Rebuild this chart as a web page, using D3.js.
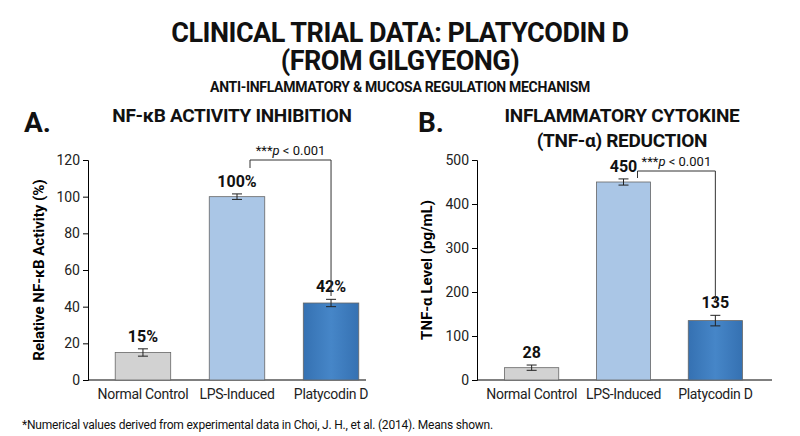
<!DOCTYPE html><html><head><meta charset="utf-8">
<script src="https://cdn.jsdelivr.net/npm/d3@7"></script>
<style>body{margin:0;background:#fff}text{font-family:"Roboto",sans-serif}</style></head><body>
<svg id="c" width="800" height="436"></svg>
<script>
const categories=["Normal Control","LPS-Induced","Platycodin D"];
const nfkbValues=[15,100,42];
const nfkbErrors=[2,1.5,2];
const nfkbLabels=["15%","100%","42%"];
const tnfValues=[28,450,135];
const tnfErrors=[6,7,12];
const tnfLabels=["28","450","135"];
const nfkbTicks=[0,20,40,60,80,100,120];
const tnfTicks=[0,100,200,300,400,500];
const colors=["#d2d2d2","#aac6e6","#3a78bb"];
const svg=d3.select("#c");
const defs=svg.append("defs");
const g=defs.append("linearGradient").attr("id","gb").attr("x1",0).attr("x2",1);
g.append("stop").attr("offset",0).attr("stop-color","#3571b2");g.append("stop").attr("offset",0.5).attr("stop-color","#4686c8");g.append("stop").attr("offset",1).attr("stop-color","#3571b2");
function T(x,y,s,t,o={}){const e=svg.append("text").attr("x",x).attr("y",y).attr("font-size",s).attr("font-weight",o.w||"bold").attr("text-anchor",o.a||"middle").attr("fill","#111").text(t);if(o.ls)e.attr("letter-spacing",o.ls);return e;}
T(400,42,27,"CLINICAL TRIAL DATA: PLATYCODIN D",{ls:-0.5});
T(400,70,27,"(FROM GILGYEONG)",{ls:-0.5});
T(400,92,14,"ANTI-INFLAMMATORY & MUCOSA REGULATION MECHANISM",{ls:-0.3});
T(24,132,28,"A.",{a:"start"});T(418,132,28,"B.",{a:"start"});
T(232,122,19,"NF-κB ACTIVITY INHIBITION",{ls:-0.3});
T(622,122,19,"INFLAMMATORY CYTOKINE",{ls:-0.3});T(622,147,19,"(TNF-α) REDUCTION",{ls:-0.3});
T(22,429,12,"*Numerical values derived from experimental data in Choi, J. H., et al. (2014). Means shown.",{a:"start",w:"normal",ls:-0.2});
function panel(x0,x1,bs,be,vals,errs,labs,ticks,max,ylab,lx,br){
 const x=d3.scaleBand().domain(categories).range([bs,be]).paddingInner(0.41).paddingOuter(0.3);
 const y=d3.scaleLinear().domain([0,max]).range([380,160]);
 const ga=svg.append("g").attr("transform",`translate(${x0},0)`).call(d3.axisLeft(y).tickValues(ticks).tickSize(5));
 ga.selectAll("text").attr("font-size",14).attr("fill","#222");
 const gb=svg.append("g").attr("transform","translate(0,380)").call(d3.axisBottom(x).tickSize(0).tickPadding(9));
 gb.selectAll("text").attr("font-size",14).attr("fill","#222").attr("letter-spacing",-0.3);
 gb.select(".domain").attr("d",`M${x0},0H${x1}`);
 categories.forEach((c,i)=>{
  svg.append("rect").attr("x",x(c)).attr("y",y(vals[i])).attr("width",x.bandwidth()).attr("height",380-y(vals[i])).attr("fill",i==2?"url(#gb)":colors[i]).attr("stroke","#666").attr("stroke-width",0.8);
  const cx=x(c)+x.bandwidth()/2;
  const e=svg.append("g").attr("stroke","#222").attr("stroke-width",1);
  e.append("line").attr("x1",cx).attr("x2",cx).attr("y1",y(vals[i]-errs[i])).attr("y2",y(vals[i]+errs[i]));
  [vals[i]-errs[i],vals[i]+errs[i]].forEach(v=>e.append("line").attr("x1",cx-5).attr("x2",cx+5).attr("y1",y(v)).attr("y2",y(v)));
  T(cx,y(vals[i]+errs[i])-7,16,labs[i]);
 });
 svg.append("text").attr("transform",`translate(${lx},270) rotate(-90)`).attr("text-anchor","middle").attr("font-size",15).attr("font-weight","bold").text(ylab);
 const xl=x(categories[1])+x.bandwidth()/2+br.dx, xr=x(categories[2])+x.bandwidth()/2;
 svg.append("path").attr("d",`M${xl},${br.yl}V${br.y}H${xr}V${br.yr}`).attr("fill","none").attr("stroke","#333").attr("stroke-width",1);
 const t=svg.append("text").attr("x",(xl+xr)/2).attr("y",br.y-5).attr("text-anchor","middle").attr("font-size",13).attr("fill","#111");
 t.append("tspan").text("***");t.append("tspan").attr("font-style","italic").text("p");t.append("tspan").text(" < 0.001");
}
panel(88,366,87,387,nfkbValues,nfkbErrors,nfkbLabels,nfkbTicks,120,"Relative NF-κB Activity (%)",44,{dx:13,y:160,yl:168,yr:296});
panel(477,772,477,770,tnfValues,tnfErrors,tnfLabels,tnfTicks,500,"TNF-α Level (pg/mL)",432,{dx:14,y:171,yl:178,yr:300});
</script></body></html>
